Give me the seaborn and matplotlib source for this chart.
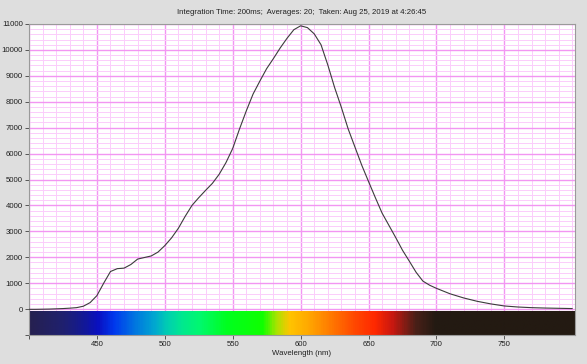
import matplotlib.pyplot as plt
import numpy as np
import pandas as pd
import seaborn as sns
from matplotlib.colors import LinearSegmentedColormap
from matplotlib.ticker import MultipleLocator

# spectrum (nm -> counts)
wavelength = [400, 405, 410, 415, 420, 425, 430, 435, 440, 445,
              450, 455, 460, 465, 470, 475, 480, 485, 490, 495,
              500, 505, 510, 515, 520, 525, 530, 535, 540, 545,
              550, 555, 560, 565, 570, 575, 580, 585, 590, 595,
              600, 605, 610, 615, 620, 625, 630, 635, 640, 645,
              650, 655, 660, 665, 670, 675, 680, 685, 690, 695,
              700, 710, 720, 730, 740, 750, 760, 770, 780, 790, 800]
counts = [-10, -10, -5, 0, 10, 20, 35, 55, 110, 250,
          520, 1000, 1450, 1560, 1580, 1720, 1930, 1990, 2050, 2200,
          2450, 2750, 3120, 3580, 4000, 4300, 4580, 4850, 5200, 5650,
          6200, 6950, 7650, 8300, 8800, 9280, 9670, 10080, 10450, 10780,
          10930, 10860, 10620, 10200, 9420, 8550, 7780, 6950, 6250, 5550,
          4920, 4300, 3700, 3230, 2760, 2270, 1850, 1420, 1080, 920,
          800, 590, 430, 300, 200, 120, 80, 55, 40, 30, 20]

# colour strip under the plot
strip_nm = [400, 425, 440, 450, 462, 478, 492, 502, 512, 525, 545, 572,
            582, 592, 605, 620, 640, 655, 668, 685, 700, 802]
strip_colors = ['#262050', '#1f2070', '#121898', '#0a10c0', '#0038ee', '#0078e0',
                '#00a8d0', '#00d0b0', '#00e890', '#00f870', '#00ff20', '#10ff00',
                '#a8e400', '#ffc400', '#ffaa00', '#ff8000', '#ff4800', '#ff2800',
                '#c81810', '#4a2018', '#231a12', '#231a12']

title = "Integration Time: 200ms;  Averages: 20;  Taken: Aug 25, 2019 at 4:26:45"
x_ticks = [400, 450, 500, 550, 600, 650, 700, 750]
x_labels = ['', '450', '500', '550', '600', '650', '700', '750']
y_ticks = list(range(-1000, 12000, 1000))
y_labels = [''] + [str(v) for v in range(0, 12000, 1000)]

sns.set_style("white")
plt.rcParams['font.family'] = ['Liberation Sans', 'DejaVu Sans']

df = pd.DataFrame({'nm': wavelength, 'counts': counts})

fig = plt.figure(figsize=(5.87, 3.64), dpi=100, facecolor='#dedede')
ax = fig.add_axes([29 / 587, 29 / 364, 546 / 587, 311 / 364])
ax.set_facecolor('white')

x0, x1 = 400, 802
ax.set_xlim(x0, x1)
ax.set_ylim(-1000, 11000)

# rainbow strip
pos = [(n - x0) / (x1 - x0) for n in strip_nm]
cmap = LinearSegmentedColormap.from_list('spec', list(zip(pos, strip_colors)))
grad = np.linspace(0, 1, 600)[None, :]
ax.imshow(grad, cmap=cmap, aspect='auto', extent=[x0, x1, -1000, -80],
          zorder=2, interpolation='bilinear')

sns.lineplot(data=df, x='nm', y='counts', ax=ax, color='#3c3c3c', lw=0.8, zorder=3)

ax.set_xticks(x_ticks)
ax.set_xticklabels(x_labels)
ax.set_yticks(y_ticks)
ax.set_yticklabels(y_labels)
ax.xaxis.set_minor_locator(MultipleLocator(10))
ax.yaxis.set_minor_locator(MultipleLocator(200))

ax.tick_params(axis='both', which='major', labelsize=5.6, length=3, width=0.6,
               color='#404040', labelcolor='#202020', pad=1.5,
               direction='out', bottom=True, left=True)
ax.tick_params(axis='both', which='minor', length=0, bottom=True, left=True)

# graph paper grid
ax.grid(which='minor', color='#fbcdfb', lw=0.7, zorder=0)
ax.grid(which='major', color='#f296f2', lw=1.0, zorder=0)
ax.set_axisbelow(True)

ax.set_xlabel('Wavelength (nm)', fontsize=5.6, color='#202020', labelpad=1)
ax.set_ylabel('')
ax.set_title(title, fontsize=5.6, color='#202020', pad=7)

for side in ['top', 'right', 'left', 'bottom']:
    ax.spines[side].set_color('#9a9a9a')
    ax.spines[side].set_linewidth(0.8)
    ax.spines[side].set_visible(True)

fig.savefig('out.png', dpi=100, facecolor=fig.get_facecolor())
